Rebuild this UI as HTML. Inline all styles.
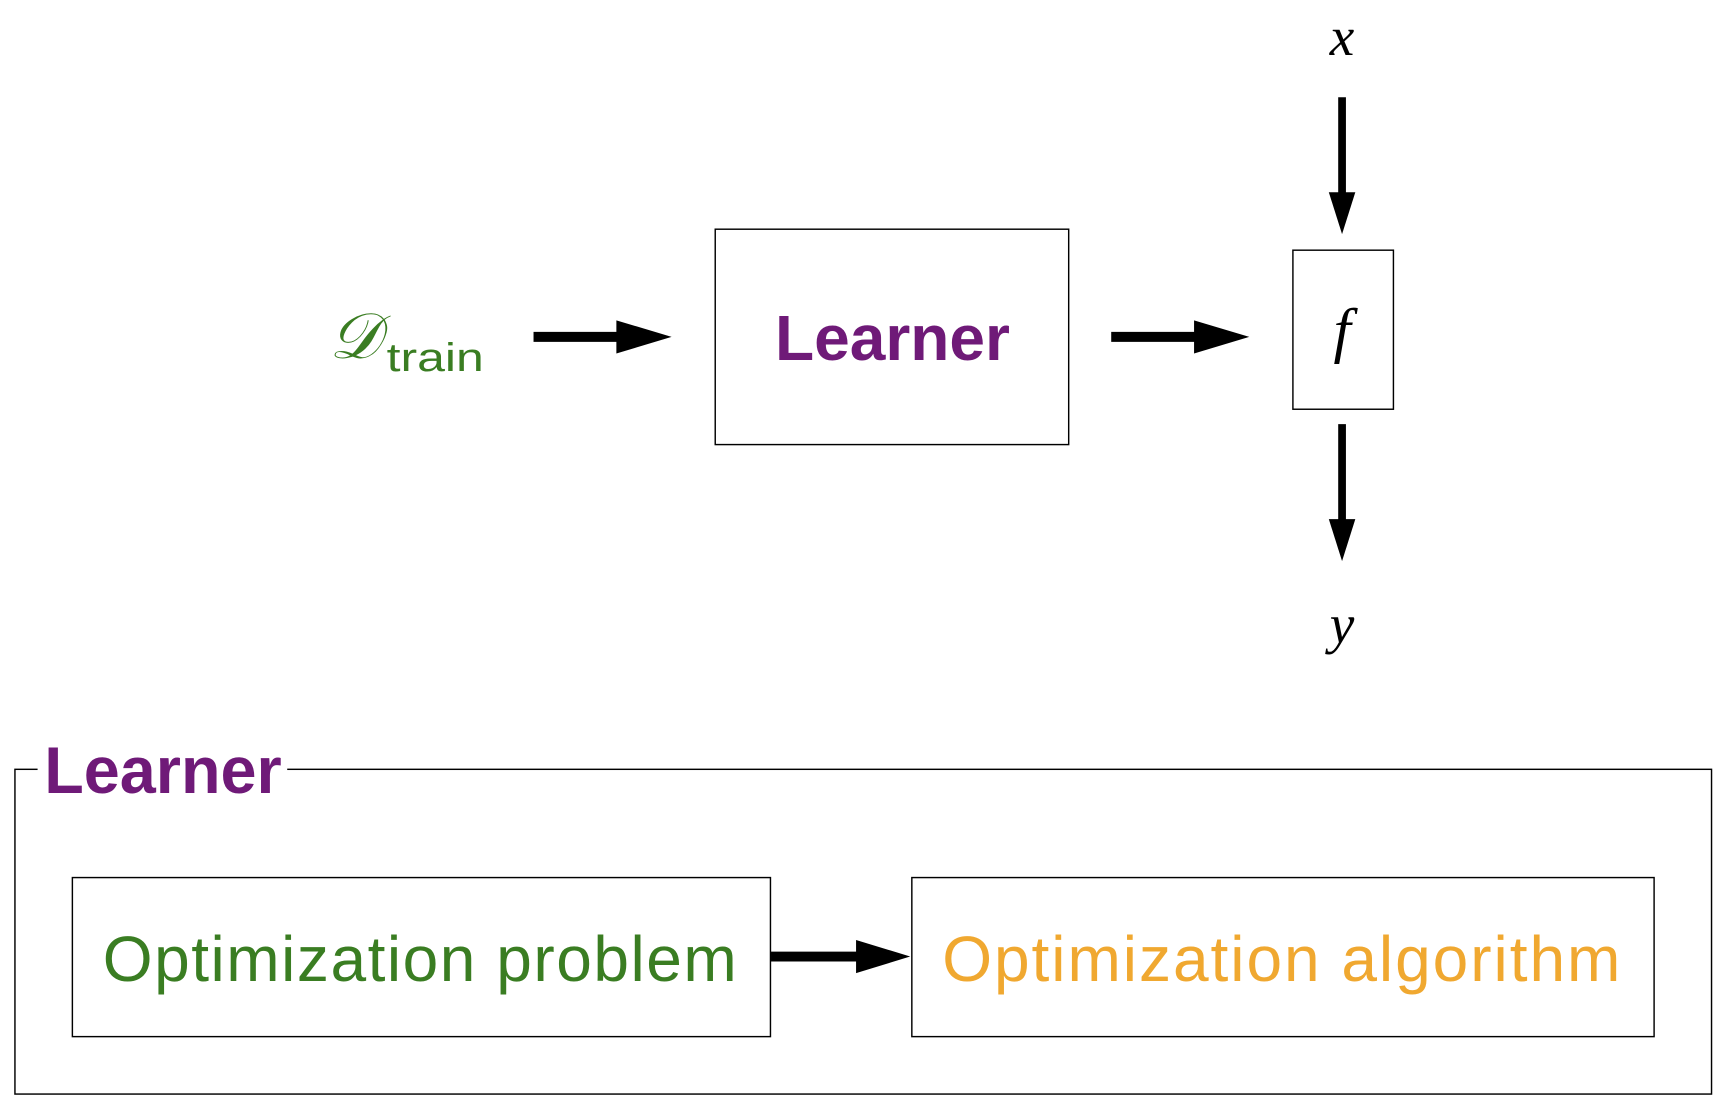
<!DOCTYPE html>
<html><head><meta charset="utf-8"><style>
html,body{margin:0;padding:0;background:#fff;}
svg{display:block;}
.sans{font-family:"Liberation Sans",sans-serif;}
.serif{font-family:"Liberation Serif",serif;font-style:italic;}
</style></head><body>
<svg width="1732" height="1104" viewBox="0 0 1568 999.5" xmlns="http://www.w3.org/2000/svg">
<rect width="1568" height="1000" fill="#fff"/>
<text x="1215" y="50" class="serif" font-size="50" text-anchor="middle">x</text>
<line x1="1215" y1="88" x2="1215" y2="178" stroke="#000" stroke-width="7"/>
<polygon points="1203,174 1227,174 1215,212" fill="#000"/>
<rect x="1170.5" y="226.5" width="91" height="144" fill="none" stroke="#000" stroke-width="1.3"/>
<text x="1215" y="318" class="serif" font-size="56" text-anchor="middle">f</text>
<line x1="1215" y1="384" x2="1215" y2="474" stroke="#000" stroke-width="7"/>
<polygon points="1203,470 1227,470 1215,508" fill="#000"/>
<text x="1215" y="582" class="serif" font-size="50" text-anchor="middle">y</text>
<text x="298" y="324" class="serif" font-size="58" fill="#3a7d22">𝒟</text>
<text x="350" y="336" class="sans" font-size="36" fill="#3a7d22" textLength="88" lengthAdjust="spacingAndGlyphs">train</text>
<line x1="483" y1="305" x2="562" y2="305" stroke="#000" stroke-width="9"/>
<polygon points="558,290 608,305 558,320" fill="#000"/>
<rect x="647.5" y="207.5" width="320" height="195" fill="none" stroke="#000" stroke-width="1.3"/>
<text x="808" y="326" class="sans" font-size="58" font-weight="bold" fill="#6f1a78" text-anchor="middle">Learner</text>
<line x1="1006" y1="305" x2="1085" y2="305" stroke="#000" stroke-width="9"/>
<polygon points="1081,290 1131,305 1081,320" fill="#000"/>
<rect x="13.5" y="696.5" width="1536" height="294" fill="none" stroke="#000" stroke-width="1.3"/>
<rect x="34" y="680" width="226" height="40" fill="#fff"/>
<text x="40" y="718" class="sans" font-size="60" font-weight="bold" fill="#6f1a78" textLength="215" lengthAdjust="spacingAndGlyphs">Learner</text>
<rect x="65.5" y="794.5" width="632" height="144" fill="none" stroke="#000" stroke-width="1.3"/>
<text x="93" y="888" class="sans" font-size="58" fill="#3a7d22" textLength="574" lengthAdjust="spacing">Optimization problem</text>
<line x1="698" y1="866" x2="779" y2="866" stroke="#000" stroke-width="9"/>
<polygon points="775,851 824,866 775,881" fill="#000"/>
<rect x="825.5" y="794.5" width="672" height="144" fill="none" stroke="#000" stroke-width="1.3"/>
<text x="853" y="888" class="sans" font-size="58" fill="#f0a830" textLength="614" lengthAdjust="spacing">Optimization algorithm</text>
</svg>
</body></html>
